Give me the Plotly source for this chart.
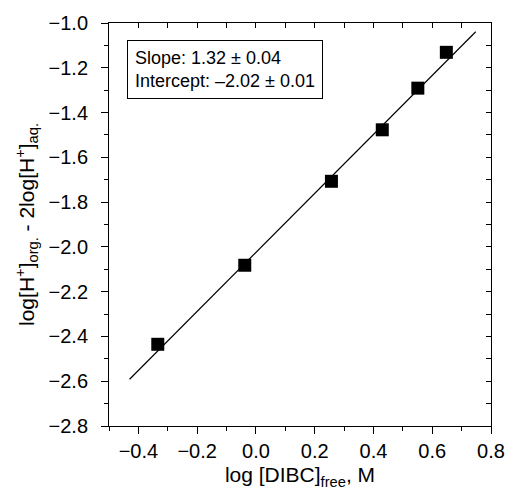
import plotly.graph_objects as go

# Data
log_dibc_free = [-0.334, -0.038, 0.257, 0.430, 0.551, 0.648]
log_h_ratio = [-2.435, -2.082, -1.707, -1.477, -1.291, -1.131]

fit_x = [-0.43, 0.748]
fit_y = [-2.591, -1.039]

x_range = [-0.5, 0.8]
y_range = [-2.8, -1.0]

FONT = "Liberation Sans, Arial, sans-serif"

fig = go.Figure()
fig.add_trace(go.Scatter(x=fit_x, y=fit_y, mode="lines",
                         line=dict(color="black", width=1.2), showlegend=False))
fig.add_trace(go.Scatter(x=log_dibc_free, y=log_h_ratio, mode="markers",
                         marker=dict(symbol="square", size=13, color="black"),
                         showlegend=False))
# invisible trace on mirrored axes
fig.add_trace(go.Scatter(x=[x_range[0]], y=[y_range[0]], xaxis="x2", yaxis="y2",
                         mode="markers", marker=dict(opacity=0), showlegend=False,
                         hoverinfo="skip"))

fig.update_layout(
    width=517, height=495,
    margin=dict(l=109, r=16, t=23, b=68),
    paper_bgcolor="white", plot_bgcolor="white",
    font=dict(family=FONT, color="black", size=18),
    xaxis=dict(range=x_range, dtick=0.2, tick0=0, tickformat=".1f",
               ticks="outside", ticklen=7, tickwidth=1, tickcolor="black",
               minor=dict(dtick=0.1, tick0=0, ticks="outside", ticklen=4, tickcolor="black"),
               showline=True, linecolor="black", linewidth=1, showgrid=False, zeroline=False,
               tickfont=dict(size=20),
               title=dict(text="log [DIBC]<sub>free</sub>, M", font=dict(size=21), standoff=6)),
    yaxis=dict(range=y_range, dtick=0.2, tick0=0, tickformat=".1f",
               ticks="outside", ticklen=7, tickwidth=1, tickcolor="black",
               minor=dict(dtick=0.1, tick0=0, ticks="outside", ticklen=4, tickcolor="black"),
               showline=True, linecolor="black", linewidth=1, showgrid=False, zeroline=False,
               tickfont=dict(size=20), ticklabelstandoff=9,
               title=dict(text="log[H<sup>+</sup>]<sub>org.</sub> - 2log[H<sup>+</sup>]<sub>aq.</sub>",
                          font=dict(size=21), standoff=8)),
    xaxis2=dict(range=x_range, overlaying="x", side="top", dtick=0.1, tick0=0,
                ticks="inside", ticklen=5, tickcolor="black", showticklabels=False,
                showline=True, linecolor="black", linewidth=1, showgrid=False, zeroline=False),
    yaxis2=dict(range=y_range, overlaying="y", side="right", dtick=0.1, tick0=0,
                ticks="inside", ticklen=5, tickcolor="black", showticklabels=False,
                showline=True, linecolor="black", linewidth=1, showgrid=False, zeroline=False),
    annotations=[dict(
        xref="paper", yref="paper", x=0.046, y=0.958, xanchor="left", yanchor="top",
        text="Slope: 1.32 ± 0.04<br>Intercept: –2.02 ± 0.01", align="left", showarrow=False,
        font=dict(size=18), bordercolor="black", borderwidth=1, borderpad=7, bgcolor="white")],
)

fig.write_html("out.html")
